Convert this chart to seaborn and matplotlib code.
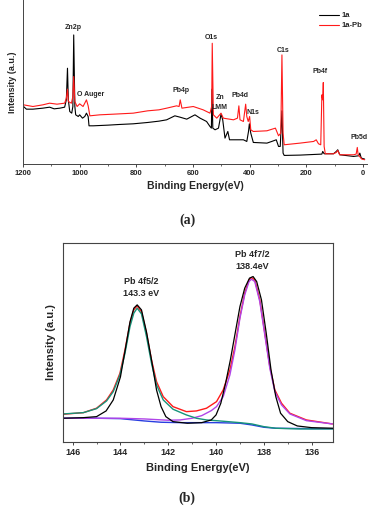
import numpy as np
import pandas as pd
import matplotlib
matplotlib.use("Agg")
import matplotlib.pyplot as plt
from matplotlib.ticker import MultipleLocator
import seaborn as sns

# ---------------- Panel (a): survey spectra ----------------
survey_1a_E = [1198, 1188, 1165, 1130, 1106, 1090, 1070, 1053, 1047, 1043, 1040, 1035, 1028, 1024, 1021, 1017,
               1014, 1005, 1000, 990, 982, 976, 970, 967, 952, 900, 860, 811, 760, 720, 693, 664, 646, 622, 593, 575,
               552, 540, 535, 533, 530, 522, 510, 501, 495, 487, 477, 471, 457, 422, 410, 404,
               401, 396, 387, 339, 322, 306, 298, 292, 286, 282, 278, 222, 145, 142, 137, 104,
               94, 89, 82, 33, 15, 11, 6, -6]
survey_1a_I = [173, 165, 165, 168, 171, 166, 168, 171, 193, 288, 193, 158, 153, 173, 388, 173,
               148, 143, 148, 138, 143, 153, 143, 115, 115, 117, 119, 121, 125, 129, 133, 145, 141, 135, 148, 138,
               128, 113, 108, 225, 108, 103, 108, 150, 133, 78, 98, 73, 73, 73, 68, 98,
               121, 93, 65, 63, 68, 73, 53, 53, 160, 33, 26, 27, 30, 38, 31, 31,
               38, 43, 28, 23, 25, 33, 18, 15]

survey_1aPb_E = [1198, 1165, 1130, 1106, 1080, 1053, 1047, 1043, 1040, 1029, 1024, 1021, 1017, 1009, 1000, 988,
                 976, 970, 964, 929, 880, 811, 760, 720, 693, 658, 649, 645, 639, 599, 564, 540, 534, 532, 528,
                 516, 501, 493, 457, 443, 438, 434, 422, 414, 410, 405, 400, 396, 387, 339, 309,
                 298, 290, 286, 282, 278, 222, 174, 165, 157, 149, 145, 142, 140, 137, 133, 104,
                 94, 89, 82, 33, 24, 20, 17, 4, -6]
survey_1aPb_I = [178, 173, 178, 183, 180, 183, 198, 225, 188, 183, 203, 263, 188, 173, 181, 173,
                 193, 175, 145, 148, 150, 153, 160, 163, 168, 175, 173, 193, 168, 173, 163, 153, 173, 363, 148,
                 138, 153, 138, 133, 138, 175, 133, 128, 180, 143, 128, 143, 103, 98, 100, 108,
                 85, 93, 328, 93, 58, 63, 68, 73, 61, 58, 208, 193, 245, 53, 31, 31,
                 35, 41, 28, 28, 30, 50, 28, 15, 13]

survey_labels = ["Zn2p", "O Auger", "Pb4p", "O1s", "Zn", "LMM", "Pb4d", "N1s", "C1s", "Pb4f", "Pb5d"]
survey_label_E = [1021, 961, 642, 534, 505, 505, 434, 390, 283, 151, 13]
survey_label_I = [411, 210, 220, 380, 200, 171, 205, 155, 341, 278, 80]

survey_xticks = [1200, 1000, 800, 600, 400, 200, 0]

# ---------------- Panel (b): Pb 4f high resolution ----------------
raw_E = [146.39, 145.55, 145.0, 144.58, 144.3, 144.02, 143.81, 143.6, 143.44, 143.3, 143.12, 142.91,
         142.7, 142.49, 142.21, 141.8, 141.24, 140.82, 140.4, 139.98, 139.7, 139.42, 139.21, 139.0,
         138.8, 138.62, 138.52, 138.38, 138.17, 137.96, 137.75, 137.54, 137.26, 136.91, 136.22, 135.13]
envelope_I = [27.7, 29.3, 33.7, 42, 52, 68.7, 92, 118.7, 132, 136, 130, 108.7,
              82, 60.3, 45.3, 35.3, 30.3, 31, 33.7, 40.3, 52, 72, 95.3, 125.3,
              148.7, 162, 164.3, 162, 142, 108.7, 75.3, 52, 38.7, 28.7, 22, 18]

fit_E = [146.39, 145.55, 145.0, 144.6, 144.3, 144.0, 143.8, 143.6, 143.44, 143.3, 143.12, 142.91,
         142.7, 142.49, 142.3, 142.1, 141.8, 141.2, 140.6, 140.2, 140.0, 139.8, 139.6, 139.4,
         139.2, 139.0, 138.8, 138.6, 138.45, 138.3, 138.1, 137.9, 137.7, 137.5, 137.3, 137.0,
         136.6, 136.0, 135.1]
fit_I = [23.7, 24.3, 25.3, 31, 42, 65, 92, 120, 133.7, 137, 132, 110,
         82, 52, 35.3, 25.3, 20.3, 18.7, 19.3, 22, 27, 38.7, 58.7, 82,
         108.7, 135.3, 153.7, 163.7, 165.3, 160.3, 142, 108.7, 72, 45.3, 28.7, 20.3,
         16, 14.3, 13.7]

comp1_E = [146.39, 145.55, 145.0, 144.58, 144.3, 144.02, 143.81, 143.6, 143.44, 143.3, 143.12, 142.91,
           142.7, 142.49, 142.21, 141.8, 141.24, 140.82, 140.4, 140.0, 139.5, 139.0, 138.5, 138.0,
           137.5, 136.5, 135.1]
comp1_I = [28, 29.3, 33.3, 41, 50.3, 67, 88.7, 115.3, 128.7, 133.7, 128, 105.3,
           78.7, 57, 42, 32.7, 27, 23.7, 22, 21.3, 20.3, 19.3, 18, 15.3,
           13.7, 13, 13]

comp2_E = [146.39, 145.0, 144.0, 143.0, 142.0, 141.5, 141.0, 140.6, 140.2, 139.98, 139.7, 139.42,
           139.21, 139.0, 138.8, 138.62, 138.52, 138.38, 138.17, 137.96, 137.75, 137.54, 137.26,
           136.91, 136.22, 135.13]
comp2_I = [23.7, 23.7, 23.7, 23, 21.7, 22, 23.7, 26.3, 31.3, 35.3, 45.3, 67,
           92, 123.7, 147, 160.3, 162.7, 160.3, 140.3, 107, 73.7, 50.3, 37,
           28, 21.3, 18]

bg_E = [146.39, 145.0, 144.0, 143.0, 142.3, 141.5, 140.0, 139.0, 138.5, 138.0, 137.5, 136.0, 135.1]
bg_I = [23.7, 23.7, 23.3, 21, 19.7, 19.3, 19.3, 18.7, 17, 14.7, 13.7, 13.3, 13.3]

hr_labels = ["Pb 4f5/2\n143.3 eV", "Pb 4f7/2\n138.4eV"]
hr_label_E = [143.12, 138.5]
hr_label_I = [154, 181]
hr_xticks = [146, 144, 142, 140, 138, 136]

# ---------------- Figure ----------------
sns.set_style("ticks")
plt.rcParams['font.family'] = ['Liberation Sans', 'DejaVu Sans']
plt.rcParams['font.weight'] = 'bold'

fig = plt.figure(figsize=(3.71, 5.08), dpi=100)
ax1 = fig.add_axes([0.062, 0.677, 0.927, 0.323])
ax2 = fig.add_axes([0.170, 0.130, 0.728, 0.392])

lw = 0.8
sns.lineplot(x=survey_1a_E, y=survey_1a_I, ax=ax1, color="black", lw=lw,
             estimator=None, sort=False, label="1a")
sns.lineplot(x=survey_1aPb_E, y=survey_1aPb_I, ax=ax1, color="#ff1a1a", lw=lw,
             estimator=None, sort=False, label="1a-Pb")
ax1.set_xlim(1200, -14)
ax1.set_ylim(0, 493)
ax1.set_xticks(survey_xticks)
ax1.xaxis.set_minor_locator(MultipleLocator(100))
ax1.set_yticks([])
ax1.tick_params(axis='x', which='major', direction='out', length=2.5, width=0.6,
                labelsize=5.5, pad=1.5)
ax1.tick_params(axis='x', which='minor', direction='out', length=1.5, width=0.5)
for lab in ax1.get_xticklabels():
    lab.set_fontweight('bold')
for s in ['top', 'right']:
    ax1.spines[s].set_visible(False)
for s in ['left', 'bottom']:
    ax1.spines[s].set_linewidth(0.7)
    ax1.spines[s].set_color('#444444')
ax1.set_xlabel("Binding Energy(eV)", fontsize=7.5, fontweight='bold', labelpad=3)
ax1.set_ylabel("Intensity (a.u.)", fontsize=6.5, fontweight='bold', labelpad=4)
for t, e, i in zip(survey_labels, survey_label_E, survey_label_I):
    ax1.text(e, i, t, fontsize=5, fontweight='bold', ha='center', va='center')
leg = ax1.legend(loc='upper right', bbox_to_anchor=(1.0, 0.955), frameon=False,
                 fontsize=5.5, handlelength=2.6, labelspacing=0.35, handletextpad=0.4,
                 borderaxespad=0.2)
for t in leg.get_texts():
    t.set_fontweight('bold')

sns.lineplot(x=raw_E, y=envelope_I, ax=ax2, color="#ff1a1a", lw=1.0, estimator=None, sort=False)
sns.lineplot(x=bg_E, y=bg_I, ax=ax2, color="#2a3ee0", lw=1.0, estimator=None, sort=False)
sns.lineplot(x=comp2_E, y=comp2_I, ax=ax2, color="#b045e8", lw=1.0, estimator=None, sort=False)
sns.lineplot(x=comp1_E, y=comp1_I, ax=ax2, color="#16947a", lw=1.0, estimator=None, sort=False)
sns.lineplot(x=fit_E, y=fit_I, ax=ax2, color="black", lw=0.9, estimator=None, sort=False)
ax2.set_xlim(146.4, 135.1)
ax2.set_ylim(0, 199)
ax2.set_xticks(hr_xticks)
ax2.xaxis.set_minor_locator(MultipleLocator(1))
ax2.set_yticks([])
ax2.tick_params(axis='x', which='major', direction='out', length=2.5, width=0.6,
                labelsize=6.5, pad=2)
ax2.tick_params(axis='x', which='minor', direction='out', length=1.5, width=0.5)
for lab in ax2.get_xticklabels():
    lab.set_fontweight('bold')
for s in ax2.spines.values():
    s.set_linewidth(0.8)
    s.set_color('#444444')
ax2.set_xlabel("Binding Energy(eV)", fontsize=8, fontweight='bold', labelpad=4)
ax2.set_ylabel("Intensity (a.u.)", fontsize=8, fontweight='bold', labelpad=5)
for t, e, i in zip(hr_labels, hr_label_E, hr_label_I):
    ax2.text(e, i, t, fontsize=6.5, fontweight='bold', ha='center', va='center',
             linespacing=1.4)

fig.text(187 / 371, 1 - 220 / 508, "(a)", fontsize=10, fontweight='bold',
         family=['Liberation Serif'], ha='center', va='center')
fig.text(187 / 371, 1 - 498 / 508, "(b)", fontsize=10, fontweight='bold',
         family=['Liberation Serif'], ha='center', va='center')

fig.savefig("out.png", dpi=100)
